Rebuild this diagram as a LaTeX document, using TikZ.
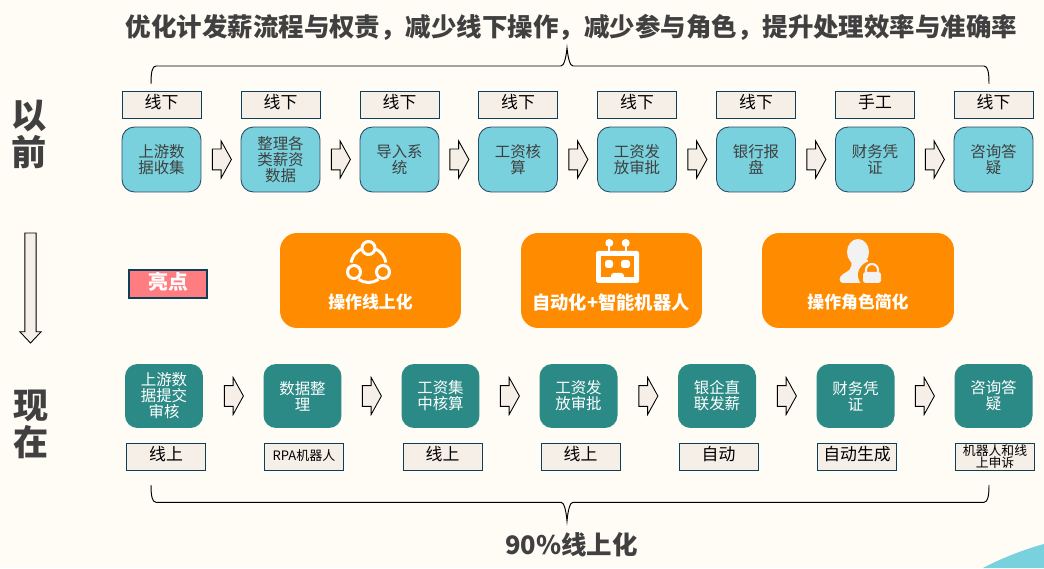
\documentclass[tikz,border=0pt]{standalone}
\usepackage{fontspec}
\setmainfont{Noto Sans CJK SC}
\usepackage{tikz}
\usetikzlibrary{shapes.arrows}

\definecolor{pagebg}{HTML}{FFFBF5}
\definecolor{tagfill}{HTML}{F5EFE8}
\definecolor{tagline}{HTML}{0F3F57}
\definecolor{oldfill}{HTML}{78D1DC}
\definecolor{oldline}{HTML}{2A4D69}
\definecolor{newfill}{HTML}{2C8A86}
\definecolor{hilite}{HTML}{FF7C80}
\definecolor{orangebox}{HTML}{FF8C00}
\definecolor{greytext}{HTML}{404040}
\definecolor{lockwhite}{HTML}{F2F2F2}

\tikzset{
    tagbox/.style={rectangle, draw=tagline, line width=0.45pt, fill=tagfill, text=black,
        minimum width=1.58cm, minimum height=0.54cm, inner sep=0pt, align=center,
        text height=8pt, text depth=3pt, font=\fontsize{9.6pt}{11pt}\selectfont},
    oldbox/.style={rectangle, rounded corners=0.25cm, draw=oldline, line width=0.5pt, fill=oldfill,
        text=greytext, minimum width=1.58cm, minimum height=1.3cm, inner sep=0pt, align=center,
        font=\fontsize{8.8pt}{9.1pt}\selectfont},
    newbox/.style={rectangle, rounded corners=0.25cm, fill=newfill, text=white,
        minimum width=1.56cm, minimum height=1.28cm, inner sep=0pt, align=center,
        font=\fontsize{8.8pt}{9.1pt}\selectfont},
    flowarrow/.style={single arrow, draw=black, line width=0.5pt, fill=tagfill, xshift=-0.05cm,
        inner xsep=0pt, inner ysep=0.2cm, minimum height=0.38cm, single arrow head extend=0.16cm,
        single arrow tip angle=122},
    featbox/.style={rectangle, rounded corners=0.34cm, fill=orangebox, minimum height=1.9cm},
    featlabel/.style={text=white, inner sep=0pt, font=\fontsize{9.6pt}{11pt}\selectfont\bfseries},
    sidelabel/.style={text=greytext, inner sep=0pt, align=center,
        font=\fontsize{20pt}{21pt}\selectfont\bfseries},
    headline/.style={text=greytext, inner sep=0pt, font=\fontsize{14.5pt}{16pt}\selectfont\bfseries},
    bracket/.style={draw=black, line width=0.55pt}
}

\begin{document}
\begin{tikzpicture}[x=0.02cm, y=0.02cm]
    \useasboundingbox (0, 0) rectangle (1044, 568);
    \fill[pagebg] (0, 0) rectangle (1044, 568);
    \fill[oldfill] (983, 0) .. controls (1000, 9) and (1022, 18) .. (1044, 24) -- (1044, 0) -- cycle;

    % headings
    \node[headline] (title) at (571.5, 541) {优化计发薪流程与权责^^^^ff0c减少线下操作^^^^ff0c减少参与角色^^^^ff0c提升处理效率与准确率};
    \node[headline] (summary) at (571.5, 23) {90\%线上化};
    \node[sidelabel] (before) at (29, 434) {以\\前};
    \node[sidelabel] (after) at (31, 144) {现\\在};

    % before: tags
    \draw[every node/.style={tagbox}]
        (161.5, 463.5) node (t1){线下}
        (280.5, 463.5) node (t2){线下}
        (399.5, 463.5) node (t3){线下}
        (518, 463.5) node (t4){线下}
        (637, 463.5) node (t5){线下}
        (756, 463.5) node (t6){线下}
        (875, 463.5) node (t7){手工}
        (993.5, 463.5) node (t8){线下};

    % before: steps
    \draw[every node/.style={oldbox}]
        (161.5, 408.5) node (a1){上游数\\据收集}
        (280.5, 408.5) node (a2){整理各\\类薪资\\数据}
        (399.5, 408.5) node (a3){导入系\\统}
        (518, 408.5) node (a4){工资核\\算}
        (637, 408.5) node (a5){工资发\\放审批}
        (756, 408.5) node (a6){银行报\\盘}
        (875, 408.5) node (a7){财务凭\\证}
        (993.5, 408.5) node (a8){咨询答\\疑};

    \draw[every node/.style={flowarrow}]
        (221.5, 408.5) node (ar1){}
        (340.5, 408.5) node (ar2){}
        (459, 408.5) node (ar3){}
        (578, 408.5) node (ar4){}
        (697, 408.5) node (ar5){}
        (816, 408.5) node (ar6){}
        (934.5, 408.5) node (ar7){};

    % top bracket
    \coordinate (bl) at (151, 484);
    \coordinate (bm) at (567, 520);
    \coordinate (br) at (989, 484);
    \draw[bracket] (bl) .. controls (151, 495) and (152, 502) .. (156, 502) -- (561, 502)
        .. controls (564, 502) and (566, 510) .. (bm)
        .. controls (568, 510) and (570, 502) .. (573, 502) -- (984, 502)
        .. controls (988, 502) and (989, 495) .. (br);

    % middle row
    \node[single arrow, draw=black, line width=0.5pt, fill=tagfill, rotate=-90,
        inner xsep=0pt, inner ysep=0.105cm, minimum height=2.2cm, single arrow head extend=0.1cm,
        single arrow tip angle=87] (down) at (30.5, 283) {};
    \node[rectangle, draw=tagline, line width=0.6pt, fill=hilite, text=white, inner sep=0pt,
        minimum width=1.56cm, minimum height=0.56cm, text height=9.5pt, text depth=3.5pt,
        font=\fontsize{11.3pt}{12pt}\selectfont\bfseries] (spot) at (168, 284) {亮点};

    \node[featbox, minimum width=3.62cm] (f1) at (370.5, 287.5) {};
    \node[featbox, minimum width=3.62cm] (f2) at (611.5, 287.5) {};
    \node[featbox, minimum width=3.84cm] (f3) at (858, 287.5) {};
    \node[featlabel] (l1) at (370.5, 266) {操作线上化};
    \node[featlabel, font=\fontsize{10.4pt}{11pt}\selectfont\bfseries] (l2) at (611, 266) {自动化+智能机器人};
    \node[featlabel] (l3) at (858, 266) {操作角色简化};

    % icon: three linked rings
    \draw[white, line width=1.7pt] (368.5, 303) ++(-55:17.5) arc (-55:-125:17.5);
    \draw[white, line width=1.7pt] (368.5, 303) ++(65:17.5) arc (65:8:17.5);
    \draw[white, line width=1.7pt] (368.5, 303) ++(115:17.5) arc (115:172:17.5);
    \draw[white, line width=1.7pt, fill=orangebox] (368.5, 320) circle (6.5);
    \draw[white, line width=1.7pt, fill=orangebox] (354, 296) circle (6.5);
    \draw[white, line width=1.7pt, fill=orangebox] (383, 296) circle (6.5);

    % icon: robot
    \fill[white] (609.3, 325) circle (4) (625.7, 325) circle (4);
    \draw[white, line width=1pt] (609.3, 325) -- (609.3, 315) (625.7, 325) -- (625.7, 315);
    \fill[white, rounded corners=1pt] (596, 285) rectangle (639, 317);
    \fill[orangebox] (601, 291) rectangle (634, 312);
    \fill[white, rounded corners=1.5pt] (605, 300) rectangle (613, 308);
    \fill[white, rounded corners=1.5pt] (621, 300) rectangle (630, 308);
    \fill[white, rounded corners=1.5pt] (611, 285) rectangle (624, 295);

    % icon: person with lock
    \fill[lockwhite] (858, 316) ellipse (11 and 13);
    \fill[lockwhite] (851, 308) .. controls (853, 298) and (848, 297) .. (843, 294)
        .. controls (838, 291) and (839, 285) .. (843, 285) -- (868, 285) -- (868, 308) -- cycle;
    \fill[orangebox] (872, 293) circle (14);
    \fill[orangebox] (862, 285) rectangle (885, 293);
    \draw[lockwhite, line width=1.2pt] (866, 292) -- (866, 298) arc (180:0:6) -- (878, 292);
    \fill[lockwhite, rounded corners=1.5pt] (863, 285) rectangle (881, 296);

    % after: steps
    \draw[every node/.style={newbox}]
        (164, 172) node (b1){上游数\\据提交\\审核}
        (302.5, 172) node (b2){数据整\\理}
        (440.5, 172) node (b3){工资集\\中核算}
        (578.5, 172) node (b4){工资发\\放审批}
        (717, 172) node (b5){银企直\\联发薪}
        (855.5, 172) node (b6){财务凭\\证}
        (993.5, 172) node (b7){咨询答\\疑};

    \draw[every node/.style={flowarrow}]
        (233.5, 172) node (br1){}
        (371.5, 172) node (br2){}
        (509.5, 172) node (br3){}
        (648, 172) node (br4){}
        (786.5, 172) node (br5){}
        (924.5, 172) node (br6){};

    % after: tags
    \draw[every node/.style={tagbox}]
        (166, 111.5) node (u1){线上}
        (304, 111.5) node (u2){\fontsize{7.4pt}{9pt}\selectfont RPA机器人}
        (442.5, 111.5) node (u3){线上}
        (580.5, 111.5) node (u4){线上}
        (718.5, 111.5) node (u5){自动}
        (857, 111.5) node (u6){自动生成}
        (995, 111.5) node[text height=, text depth=] (u7){\raisebox{1.5pt}{\parbox{1.5cm}{\centering\fontsize{7.3pt}{6.8pt}\selectfont 机器人和线\\上申诉}}};

    % bottom bracket
    \coordinate (cl) at (151, 83);
    \coordinate (cm) at (567, 47);
    \coordinate (cr) at (989, 83);
    \draw[bracket] (cl) .. controls (151, 73) and (152, 65.7) .. (156, 65.7) -- (561, 65.7)
        .. controls (564, 65.7) and (566, 58) .. (cm)
        .. controls (568, 58) and (570, 65.7) .. (573, 65.7) -- (984, 65.7)
        .. controls (988, 65.7) and (989, 73) .. (cr);
\end{tikzpicture}
\end{document}
